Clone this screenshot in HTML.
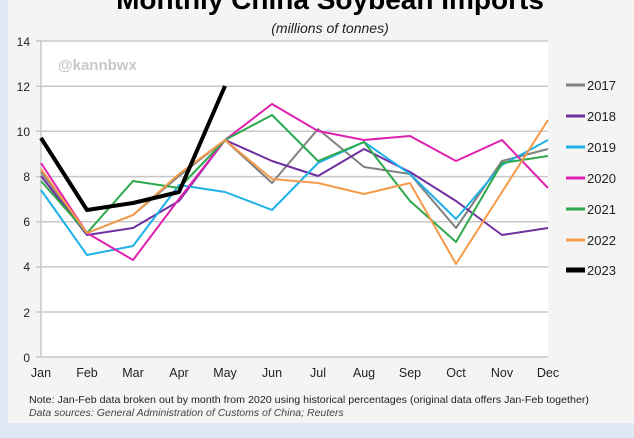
<!DOCTYPE html>
<html><head><style>
html,body{margin:0;padding:0;background:#dfe9f5;}
</style></head><body>
<svg width="634" height="433" xmlns="http://www.w3.org/2000/svg" font-family="Liberation Sans, Arial, sans-serif">
<rect x="0" y="0" width="634" height="433" fill="#dfe9f5"/>
<rect x="8" y="0" width="626" height="423" fill="#f4f4f3"/>
<rect x="41" y="41" width="507" height="316" fill="#ffffff"/>
<text x="330" y="9" font-size="28" font-weight="bold" text-anchor="middle" fill="#000">Monthly China Soybean Imports</text>
<text x="330" y="33" font-size="14" font-style="italic" text-anchor="middle" fill="#222">(millions  of tonnes)</text>
<g stroke="#c8c8c8" stroke-width="1.5">
<line x1="36" y1="41" x2="548" y2="41"/>
<line x1="36" y1="86.2" x2="548" y2="86.2"/>
<line x1="36" y1="131.3" x2="548" y2="131.3"/>
<line x1="36" y1="176.6" x2="548" y2="176.6"/>
<line x1="36" y1="221.8" x2="548" y2="221.8"/>
<line x1="36" y1="266.9" x2="548" y2="266.9"/>
<line x1="36" y1="312" x2="548" y2="312"/>
<line x1="36" y1="357" x2="548" y2="357"/>
<line x1="41" y1="41" x2="41" y2="357"/>
</g>
<text x="58" y="70" font-size="15" font-weight="bold" fill="#c8c8c8">@kannbwx</text>
<g font-size="12" fill="#222" text-anchor="end">
<text x="30" y="46">14</text><text x="30" y="91">12</text><text x="30" y="136">10</text>
<text x="30" y="181">8</text><text x="30" y="226">6</text><text x="30" y="271">4</text>
<text x="30" y="317">2</text><text x="30" y="362">0</text>
</g>
<g font-size="12.5" fill="#222" text-anchor="middle">
<text x="41" y="377">Jan</text><text x="87" y="377">Feb</text><text x="133" y="377">Mar</text>
<text x="179" y="377">Apr</text><text x="225" y="377">May</text><text x="272" y="377">Jun</text>
<text x="318" y="377">Jul</text><text x="364" y="377">Aug</text><text x="410" y="377">Sep</text>
<text x="456" y="377">Oct</text><text x="502" y="377">Nov</text><text x="548" y="377">Dec</text>
</g>
<text x="29" y="403" font-size="10.5" fill="#222" textLength="560" lengthAdjust="spacingAndGlyphs">Note: Jan-Feb data broken out by month from 2020 using historical percentages (original data offers Jan-Feb together)</text>
<text x="29" y="416" font-size="10.5" font-style="italic" fill="#444">Data sources: General Administration of Customs of China; Reuters</text>
<g fill="none" stroke-width="2" stroke-linejoin="round">
<polyline stroke="#808080" points="41,172 87,233 133,215 179,176 225,140 272,183 318,129 364,167 410,174 456,228 502,161 548,149"/>
<polyline stroke="#7030a0" points="41,176 87,235 133,228 179,201 225,140 272,161 318,176 364,149 410,172 456,201 502,235 548,228"/>
<polyline stroke="#1fb0e8" points="41,190 87,255 133,246 179,185 225,192 272,210 318,163 364,142 410,174 456,219 502,165 548,140"/>
<polyline stroke="#e020b0" points="41,163 87,233 133,260 179,199 225,140 272,104 318,131 364,140 410,136 456,161 502,140 548,188"/>
<polyline stroke="#2ea84a" points="41,181 87,233 133,181 179,188 225,140 272,115 318,161 364,142 410,201 456,242 502,163 548,156"/>
<polyline stroke="#f59a4a" points="41,169 87,233 133,215 179,174 225,140 272,179 318,183 364,194 410,183 456,264 502,192 548,120"/>
<polyline stroke="#000" stroke-width="4" points="41,138 87,210 133,203 179,192 225,86"/>
</g>
<g stroke-width="3">
<line x1="566" y1="85" x2="585" y2="85" stroke="#808080"/>
<line x1="566" y1="116" x2="585" y2="116" stroke="#7030a0"/>
<line x1="566" y1="147" x2="585" y2="147" stroke="#1fb0e8"/>
<line x1="566" y1="178" x2="585" y2="178" stroke="#e020b0"/>
<line x1="566" y1="209" x2="585" y2="209" stroke="#2ea84a"/>
<line x1="566" y1="240" x2="585" y2="240" stroke="#f59a4a"/>
<line x1="566" y1="270" x2="585" y2="270" stroke="#000" stroke-width="5"/>
</g>
<g font-size="13" fill="#222">
<text x="587" y="90">2017</text><text x="587" y="121">2018</text><text x="587" y="152">2019</text>
<text x="587" y="183">2020</text><text x="587" y="214">2021</text><text x="587" y="245">2022</text>
<text x="587" y="275">2023</text>
</g>
</svg>
</body></html>
